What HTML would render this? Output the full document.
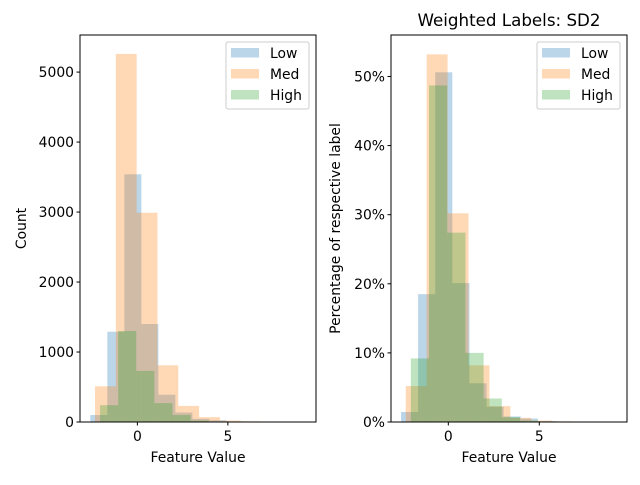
<!DOCTYPE html>
<html><head><meta charset="utf-8"><style>
body{margin:0;background:#fff;}
svg text{font-family:"DejaVu Sans","Liberation Sans",sans-serif;fill:#000;}
</style></head><body>
<svg id="fig" width="640" height="480" xmlns="http://www.w3.org/2000/svg"></svg>
<script>
const seriesNames = ["Low","Med","High"];
const colors = ["#1f77b4","#ff7f0e","#2ca02c"];
const binStarts = [-2.6,-2.34,-2.06];
const binWidths = [0.94,1.15,1.0];
const lowCounts = [100,1290,3540,1400,390,135,45,25,8,4];
const medCounts = [510,5260,2990,810,230,70,20,10,6,4];
const highCounts = [240,1300,730,270,100,20,6,3,0,0];
const lowPct = [1.45,18.5,50.6,20.1,5.6,2.2,0.8,0.5,0.1,0.05];
const medPct = [5.2,53.2,30.2,8.2,2.3,0.6,0.2,0.1,0.05,0.03];
const highPct = [9.2,48.7,27.4,10.0,3.4,0.7,0.2,0.1,0.03,0];
const xTicks = [0,5];
const countTicks = [0,1000,2000,3000,4000,5000];
const pctTicks = [0,10,20,30,40,50];

const svg = document.getElementById('fig');
const NS = "http://www.w3.org/2000/svg";
function mk(tag, attrs, parent){const e=document.createElementNS(NS,tag);for(const k in attrs)e.setAttribute(k,attrs[k]);(parent||svg).appendChild(e);return e;}

function panel(cfg){
  const g = mk('g',{});
  
  
  const x = v => cfg.x0 + (v - cfg.xmin) / (cfg.xmax - cfg.xmin) * (cfg.x1 - cfg.x0);
  const y = v => cfg.y0 - v / cfg.ymax * (cfg.y0 - cfg.y1);
  cfg.data.forEach((arr, s) => {
    arr.forEach((v, i) => {
      if (v <= 0) return;
      const r = mk('rect',{x:x(binStarts[s]+i*binWidths[s]), y:y(v), width:x(binStarts[s]+(i+1)*binWidths[s])-x(binStarts[s]+i*binWidths[s]), height:cfg.y0-y(v), fill:colors[s], 'fill-opacity':0.3}, g);
      
      
    });
  });
  mk('rect',{x:cfg.x0,y:cfg.y1,width:cfg.x1-cfg.x0,height:cfg.y0-cfg.y1,fill:'none',stroke:'#000','stroke-width':1},g);
  xTicks.forEach(t => {
    mk('line',{x1:x(t),x2:x(t),y1:cfg.y0,y2:cfg.y0+3.5,stroke:'#000'},g);
    const tx = mk('text',{x:x(t),y:cfg.y0+19,'text-anchor':'middle','font-size':13.9},g);
    tx.textContent = t;
    
    
  });
  cfg.yticks.forEach(t => {
    mk('line',{x1:cfg.x0-3.5,x2:cfg.x0,y1:y(t),y2:y(t),stroke:'#000'},g);
    const tx = mk('text',{x:cfg.x0-6,y:y(t)+5,'text-anchor':'end','font-size':13.9},g);
    tx.textContent = cfg.fmt(t);
    
    
  });
  const xl = mk('text',{x:(cfg.x0+cfg.x1)/2,y:462,'text-anchor':'middle','font-size':13.9},g);
  xl.textContent = 'Feature Value';
  
  
  const yl = mk('text',{x:0,y:0,'text-anchor':'middle','font-size':13.9,transform:`translate(${cfg.ylx},${(cfg.y0+cfg.y1)/2}) rotate(-90)`},g);
  yl.textContent = cfg.ylabel;
  
  
  const lg = mk('g',{},g);
  
  
  const lx = cfg.x1 - 90;
  mk('rect',{x:lx,y:cfg.y1+7,width:83,height:67,rx:2,fill:'#fff','fill-opacity':0.8,stroke:'#ccc'},lg);
  seriesNames.forEach((n,s)=>{
    mk('rect',{x:lx+5,y:cfg.y1+13+s*21,width:28,height:9.5,fill:colors[s],'fill-opacity':0.3},lg);
    const t = mk('text',{x:lx+44,y:cfg.y1+23+s*21,'font-size':13.9},lg);
    t.textContent = n;
    
    
  });
}
panel({name:'count-chart',x0:80,x1:316,y0:422,y1:35,xmin:-3.17,xmax:9.87,ymax:5530,data:[lowCounts,medCounts,highCounts],yticks:countTicks,fmt:t=>t,ylabel:'Count',ylx:26});
panel({name:'percentage-chart',x0:391,x1:627,y0:422,y1:35,xmin:-3.15,xmax:9.82,ymax:56.0,data:[lowPct,medPct,highPct],yticks:pctTicks,fmt:t=>t+'%',ylabel:'Percentage of respective label',ylx:340});
const title = mk('text',{x:509,y:26,'text-anchor':'middle','font-size':16.7});
title.textContent = 'Weighted Labels: SD2';


</script>
</body></html>
